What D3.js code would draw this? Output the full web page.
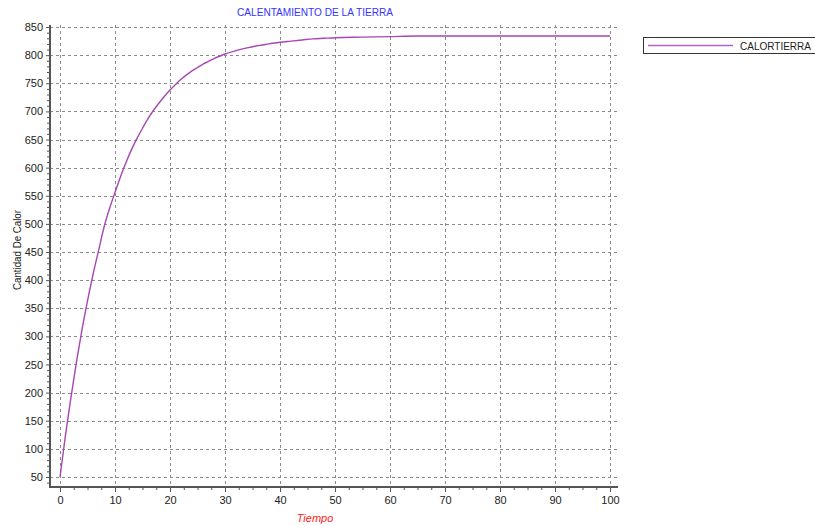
<!DOCTYPE html>
<html>
<head>
<meta charset="utf-8">
<script src="https://cdn.jsdelivr.net/npm/d3@7"></script>
<style>
  html, body { margin: 0; padding: 0; background: #fff; }
  svg { display: block; }
  text { font-family: "Liberation Sans", Arial, sans-serif; }
</style>
</head>
<body>
<svg id="chart" width="815" height="525"></svg>
<script>
const chartTitle = "CALENTAMIENTO DE LA TIERRA";
const xAxisTitle = "Tiempo";
const yAxisTitle = "Cantidad De Calor";
const seriesName = "CALORTIERRA";

const tiempo = [0, 1, 2, 3, 4, 5, 6, 7, 8, 9, 10, 11, 12, 13, 14, 15, 16, 17, 18, 19, 20,
  21, 22, 23, 24, 25, 26, 27, 28, 29, 30, 32, 34, 36, 38, 40, 42, 44, 46, 48, 50,
  55, 60, 65, 70, 80, 90, 100];
const calor = [50, 125, 192, 255, 312, 363, 410, 452, 494, 527, 556, 584, 609, 632, 652, 670, 687, 702, 715, 727, 738,
  748, 757, 765, 772, 778, 784, 789, 794, 798, 802, 808, 813, 817, 820, 823, 825, 827, 829, 830, 831,
  832, 833, 834, 834, 834, 834, 834];

const xTicks = [0, 10, 20, 30, 40, 50, 60, 70, 80, 90, 100];
const yTicks = [50, 100, 150, 200, 250, 300, 350, 400, 450, 500, 550, 600, 650, 700, 750, 800, 850];

const svg = d3.select("#chart");
const pLeft = 50, pRight = 618, pTop = 25, pBottom = 487;

const x = d3.scaleLinear().domain([-1.82, 101.45]).range([pLeft, pRight]);
const y = d3.scaleLinear().domain([32.2, 853.6]).range([pBottom, pTop]);

// grid
const grid = svg.append("g").attr("stroke", "#8a8a8a").attr("stroke-dasharray", "3,3").attr("stroke-width", 1);
grid.selectAll("line.h").data(yTicks).join("line").attr("class", "h")
  .attr("x1", pLeft).attr("x2", pRight)
  .attr("y1", d => Math.round(y(d)) + 0.5).attr("y2", d => Math.round(y(d)) + 0.5);
grid.selectAll("line.v").data(xTicks).join("line").attr("class", "v")
  .attr("y1", pTop).attr("y2", pBottom)
  .attr("x1", d => Math.round(x(d)) + 0.5).attr("x2", d => Math.round(x(d)) + 0.5);

// minor ticks
const yMinor = d3.range(40, 851, 10).filter(v => v % 50 !== 0);
const xMinor = d3.range(0, 101, 2.5).filter(v => v % 10 !== 0);

const yAxis = d3.axisLeft(y).tickValues(yTicks).tickSize(4).tickPadding(3);
const yAxisMinor = d3.axisLeft(y).tickValues(yMinor).tickSize(3).tickFormat("");
const xAxis = d3.axisBottom(x).tickValues(xTicks).tickSize(5).tickPadding(4);
const xAxisMinor = d3.axisBottom(x).tickValues(xMinor).tickSize(3).tickFormat("");

function styleAxis(g) {
  g.select(".domain").remove();
  g.selectAll(".tick line").attr("stroke", "#555");
  g.selectAll(".tick text").attr("fill", "#222").attr("font-size", 11)
    .attr("font-family", "'Liberation Sans', Arial, sans-serif");
}

svg.append("g").attr("transform", `translate(${pLeft},0)`).call(yAxisMinor).call(styleAxis);
svg.append("g").attr("transform", `translate(${pLeft},0)`).call(yAxis).call(styleAxis);
svg.append("g").attr("transform", `translate(0,${pBottom})`).call(xAxisMinor).call(styleAxis);
svg.append("g").attr("transform", `translate(0,${pBottom})`).call(xAxis).call(styleAxis);

// axis lines
svg.append("line").attr("x1", pLeft).attr("x2", pLeft).attr("y1", pTop).attr("y2", pBottom + 1)
  .attr("stroke", "#555").attr("stroke-width", 2);
svg.append("line").attr("x1", pLeft - 1).attr("x2", pRight).attr("y1", pBottom).attr("y2", pBottom)
  .attr("stroke", "#555").attr("stroke-width", 2);

// series line
const line = d3.line().x((d, i) => x(tiempo[i])).y(d => y(d)).curve(d3.curveMonotoneX);
svg.append("path").datum(calor).attr("d", line)
  .attr("fill", "none").attr("stroke", "#a647b3").attr("stroke-width", 1.4);

// titles
svg.append("text").attr("x", 315).attr("y", 16).attr("text-anchor", "middle")
  .attr("font-size", 11).attr("fill", "#3333ff")
  .attr("textLength", 156).attr("lengthAdjust", "spacingAndGlyphs").text(chartTitle);
svg.append("text").attr("x", 315).attr("y", 522).attr("text-anchor", "middle")
  .attr("font-size", 11).attr("font-style", "italic").attr("fill", "#ff2020").text(xAxisTitle);
svg.append("text").attr("transform", "translate(20.5,250) rotate(-90)").attr("text-anchor", "middle")
  .attr("font-size", 11).attr("fill", "#222")
  .attr("textLength", 80).attr("lengthAdjust", "spacingAndGlyphs").text(yAxisTitle);

// legend
const lg = svg.append("g");
lg.append("rect").attr("x", 643.5).attr("y", 37.5).attr("width", 180).attr("height", 16)
  .attr("fill", "#fff").attr("stroke", "#333").attr("stroke-width", 1);
lg.append("line").attr("x1", 648).attr("x2", 733).attr("y1", 45.5).attr("y2", 45.5)
  .attr("stroke", "#b464c2").attr("stroke-width", 1.5);
lg.append("text").attr("x", 740).attr("y", 49.5).attr("font-size", 10).attr("fill", "#222")
  .attr("textLength", 71).attr("lengthAdjust", "spacingAndGlyphs").text(seriesName);
</script>
</body>
</html>
